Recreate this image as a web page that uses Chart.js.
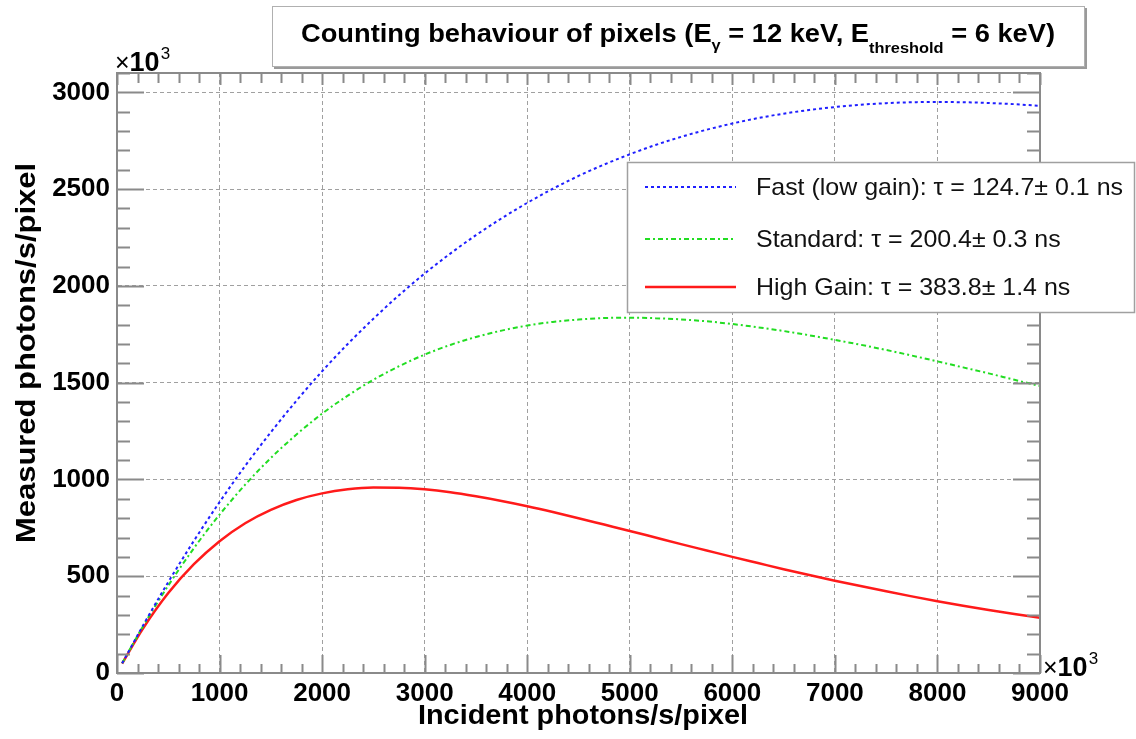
<!DOCTYPE html>
<html>
<head>
<meta charset="utf-8">
<script src="https://cdn.jsdelivr.net/npm/chart.js@4/dist/chart.umd.min.js"></script>
<style>
  html, body { margin: 0; padding: 0; background: #fff; }
  canvas { display: block; }
</style>
</head>
<body>
<canvas id="chart" width="1136" height="739"></canvas>
<script>
// values (both axes in units of 10^3)
const incident = [50, 250, 500, 750, 1000, 1250, 1500, 1750, 2000, 2250, 2500, 2750, 3000, 3250, 3500, 3750, 4000, 4250, 4500, 4750, 5000, 5250, 5500, 5750, 6000, 6250, 6500, 6750, 7000, 7250, 7500, 7750, 8000, 8250, 8500, 8750, 9000];
const fastLowGain = [50, 242, 470, 683, 883, 1070, 1244, 1407, 1559, 1700, 1830, 1952, 2064, 2167, 2262, 2349, 2429, 2502, 2568, 2627, 2680, 2728, 2770, 2807, 2839, 2867, 2890, 2909, 2924, 2936, 2944, 2949, 2950, 2949, 2945, 2939, 2930];
const standardGain = [50, 238, 452, 645, 818, 973, 1111, 1232, 1340, 1433, 1515, 1585, 1645, 1695, 1736, 1769, 1795, 1814, 1826, 1834, 1836, 1833, 1827, 1817, 1803, 1786, 1767, 1745, 1721, 1696, 1669, 1640, 1610, 1579, 1548, 1515, 1483];
const highGain = [49, 227, 413, 562, 681, 774, 843, 894, 928, 949, 958, 957, 949, 934, 913, 889, 862, 832, 800, 767, 734, 700, 666, 633, 600, 568, 536, 506, 477, 449, 422, 396, 371, 348, 326, 305, 285];

const seriesLabels = [
  'Fast (low gain): \u03c4 = 124.7\u00b1 0.1 ns',
  'Standard: \u03c4 = 200.4\u00b1 0.3 ns',
  'High Gain: \u03c4 = 383.8\u00b1 1.4 ns'
];
const xTickValues = [0, 1000, 2000, 3000, 4000, 5000, 6000, 7000, 8000, 9000];
const yTickValues = [0, 500, 1000, 1500, 2000, 2500, 3000];
const xTitle = 'Incident photons/s/pixel';
const yTitle = 'Measured photons/s/pixel';

const FONT = '"Liberation Sans", Arial, Helvetica, sans-serif';
const AXIS_GREY = '#8a8a8a';

function points(ys) {
  return incident.map((x, i) => ({ x: x, y: ys[i] }));
}

// draw text stretched to a given width, left edge at x, baseline at y
function fitText(ctx, text, x, y, width, font) {
  ctx.save();
  ctx.font = font;
  const w = ctx.measureText(text).width;
  ctx.translate(x, y);
  ctx.scale(width / w, 1);
  ctx.textAlign = 'left';
  ctx.textBaseline = 'alphabetic';
  ctx.fillText(text, 0, 0);
  ctx.restore();
}

function drawTimes10(ctx, x, y) {
  ctx.save();
  ctx.fillStyle = '#000';
  ctx.textBaseline = 'alphabetic';
  ctx.textAlign = 'left';
  ctx.font = '25px ' + FONT;
  ctx.fillText('\u00d7', x, y);
  const w1 = ctx.measureText('\u00d7').width;
  ctx.font = 'bold 27px ' + FONT;
  ctx.fillText('10', x + w1, y);
  const w2 = ctx.measureText('10').width;
  ctx.font = '17px ' + FONT;
  ctx.fillText('3', x + w1 + w2 + 1, y - 12);
  ctx.restore();
}

const decorations = {
  id: 'decorations',
  afterDraw(chart) {
    const ctx = chart.ctx;
    const xs = chart.scales.x;
    const ys = chart.scales.y;
    const { left, right, top, bottom } = chart.chartArea;

    // frame
    ctx.save();
    ctx.strokeStyle = AXIS_GREY;
    ctx.lineWidth = 2;
    ctx.strokeRect(left, top, right - left, bottom - top);

    // ticks inside the frame, on all four sides
    for (let v = 0; v <= 9000; v += 200) {
      const px = Math.round(xs.getPixelForValue(v)) + 0.5;
      const len = v % 1000 === 0 ? 18 : 9;
      ctx.beginPath();
      ctx.moveTo(px, bottom); ctx.lineTo(px, bottom - len);
      ctx.moveTo(px, top); ctx.lineTo(px, top + (v % 1000 === 0 ? 12 : 10));
      ctx.stroke();
    }
    for (let v = 0; v <= 3100; v += 100) {
      const py = Math.round(ys.getPixelForValue(v)) + 0.5;
      const len = v % 500 === 0 ? 27 : 13;
      ctx.beginPath();
      ctx.moveTo(left, py); ctx.lineTo(left + len, py);
      ctx.moveTo(right, py); ctx.lineTo(right - len, py);
      ctx.stroke();
    }
    ctx.restore();

    // axis titles
    ctx.save();
    ctx.fillStyle = '#000';
    fitText(ctx, xTitle, 418, 724, 330, 'bold 28px ' + FONT);
    ctx.translate(35, 543);
    ctx.rotate(-Math.PI / 2);
    fitText(ctx, yTitle, 0, 0, 380, 'bold 28px ' + FONT);
    ctx.restore();

    // x10^3 multipliers
    drawTimes10(ctx, 115, 71);
    drawTimes10(ctx, 1043, 676);

    // title box
    ctx.save();
    ctx.fillStyle = '#fff';
    ctx.fillRect(272, 6, 813, 61);
    ctx.strokeStyle = '#b0b0b0';
    ctx.lineWidth = 1;
    ctx.strokeRect(272.5, 6.5, 812, 60);
    ctx.strokeStyle = '#9a9a9a';
    ctx.lineWidth = 2;
    ctx.beginPath();
    ctx.moveTo(274, 68); ctx.lineTo(1086, 68); ctx.lineTo(1086, 8);
    ctx.stroke();

    const parts = [
      { t: 'Counting behaviour of pixels (E', size: 25, dy: 0 },
      { t: '\u03b3', size: 15, dy: 8 },
      { t: ' = 12 keV, E', size: 25, dy: 0 },
      { t: 'threshold', size: 15, dy: 11 },
      { t: ' = 6 keV)', size: 25, dy: 0 }
    ];
    ctx.fillStyle = '#000';
    let total = 0;
    parts.forEach(p => {
      ctx.font = 'bold ' + p.size + 'px ' + FONT;
      p.w = ctx.measureText(p.t).width;
      total += p.w;
    });
    const sx = 754 / total;
    let cx = 301;
    parts.forEach(p => {
      ctx.save();
      ctx.font = 'bold ' + p.size + 'px ' + FONT;
      ctx.translate(cx, 42 + p.dy);
      ctx.scale(sx, 1);
      ctx.fillText(p.t, 0, 0);
      ctx.restore();
      cx += p.w * sx;
    });
    ctx.restore();

    // legend box
    ctx.save();
    ctx.fillStyle = '#fff';
    ctx.fillRect(627, 162, 508, 151);
    ctx.strokeStyle = '#a0a0a0';
    ctx.lineWidth = 1.5;
    ctx.strokeRect(627.5, 162.5, 507, 150);
    const rows = [187, 239, 287];
    const legendFont = '24px ' + FONT;
    ctx.font = legendFont;
    const scaleL = 367 / ctx.measureText(seriesLabels[0]).width;
    chart.data.datasets.forEach((ds, i) => {
      ctx.save();
      ctx.strokeStyle = ds.borderColor;
      ctx.lineWidth = ds.borderWidth;
      ctx.setLineDash(ds.borderDash || []);
      ctx.beginPath();
      ctx.moveTo(645, rows[i]);
      ctx.lineTo(736, rows[i]);
      ctx.stroke();
      ctx.restore();
      ctx.fillStyle = '#111';
      const w = ctx.measureText(seriesLabels[i]).width * scaleL;
      fitText(ctx, seriesLabels[i], 756, rows[i] + 8, w, legendFont);
    });
    ctx.restore();
  }
};

new Chart(document.getElementById('chart'), {
  type: 'line',
  data: {
    datasets: [
      {
        label: seriesLabels[0],
        data: points(fastLowGain),
        borderColor: '#1f1fff',
        borderWidth: 2,
        borderDash: [3, 3],
        pointRadius: 0,
        cubicInterpolationMode: 'monotone',
        fill: false
      },
      {
        label: seriesLabels[1],
        data: points(standardGain),
        borderColor: '#22dd22',
        borderWidth: 2,
        borderDash: [5, 3, 2, 3],
        pointRadius: 0,
        cubicInterpolationMode: 'monotone',
        fill: false
      },
      {
        label: seriesLabels[2],
        data: points(highGain),
        borderColor: '#ff1a1a',
        borderWidth: 2.5,
        pointRadius: 0,
        cubicInterpolationMode: 'monotone',
        fill: false
      }
    ]
  },
  options: {
    responsive: false,
    devicePixelRatio: 1,
    animation: false,
    layout: { padding: { left: 0, right: 96, top: 73, bottom: 0 } },
    plugins: {
      legend: { display: false },
      title: { display: false },
      tooltip: { enabled: false }
    },
    scales: {
      x: {
        type: 'linear',
        min: 0,
        max: 9000,
        afterFit: (s) => { s.height = 66; },
        afterBuildTicks: (s) => { s.ticks = xTickValues.map(v => ({ value: v })); },
        ticks: {
          color: '#000',
          font: { family: FONT, size: 26, weight: 'bold' },
          padding: 5,
          maxRotation: 0,
          autoSkip: false,
          callback: (v) => String(v)
        },
        grid: { color: '#a0a0a0', lineWidth: 1, drawTicks: false },
        border: { color: AXIS_GREY, width: 2, dash: [4, 3] }
      },
      y: {
        type: 'linear',
        min: 0,
        max: 3100,
        afterFit: (s) => { s.width = 117; },
        afterBuildTicks: (s) => { s.ticks = yTickValues.map(v => ({ value: v })); },
        ticks: {
          color: '#000',
          font: { family: FONT, size: 26, weight: 'bold' },
          padding: 7,
          autoSkip: false,
          callback: (v) => String(v)
        },
        grid: { color: '#a0a0a0', lineWidth: 1, drawTicks: false },
        border: { color: AXIS_GREY, width: 2, dash: [4, 3] }
      }
    }
  },
  plugins: [decorations]
});
</script>
</body>
</html>
